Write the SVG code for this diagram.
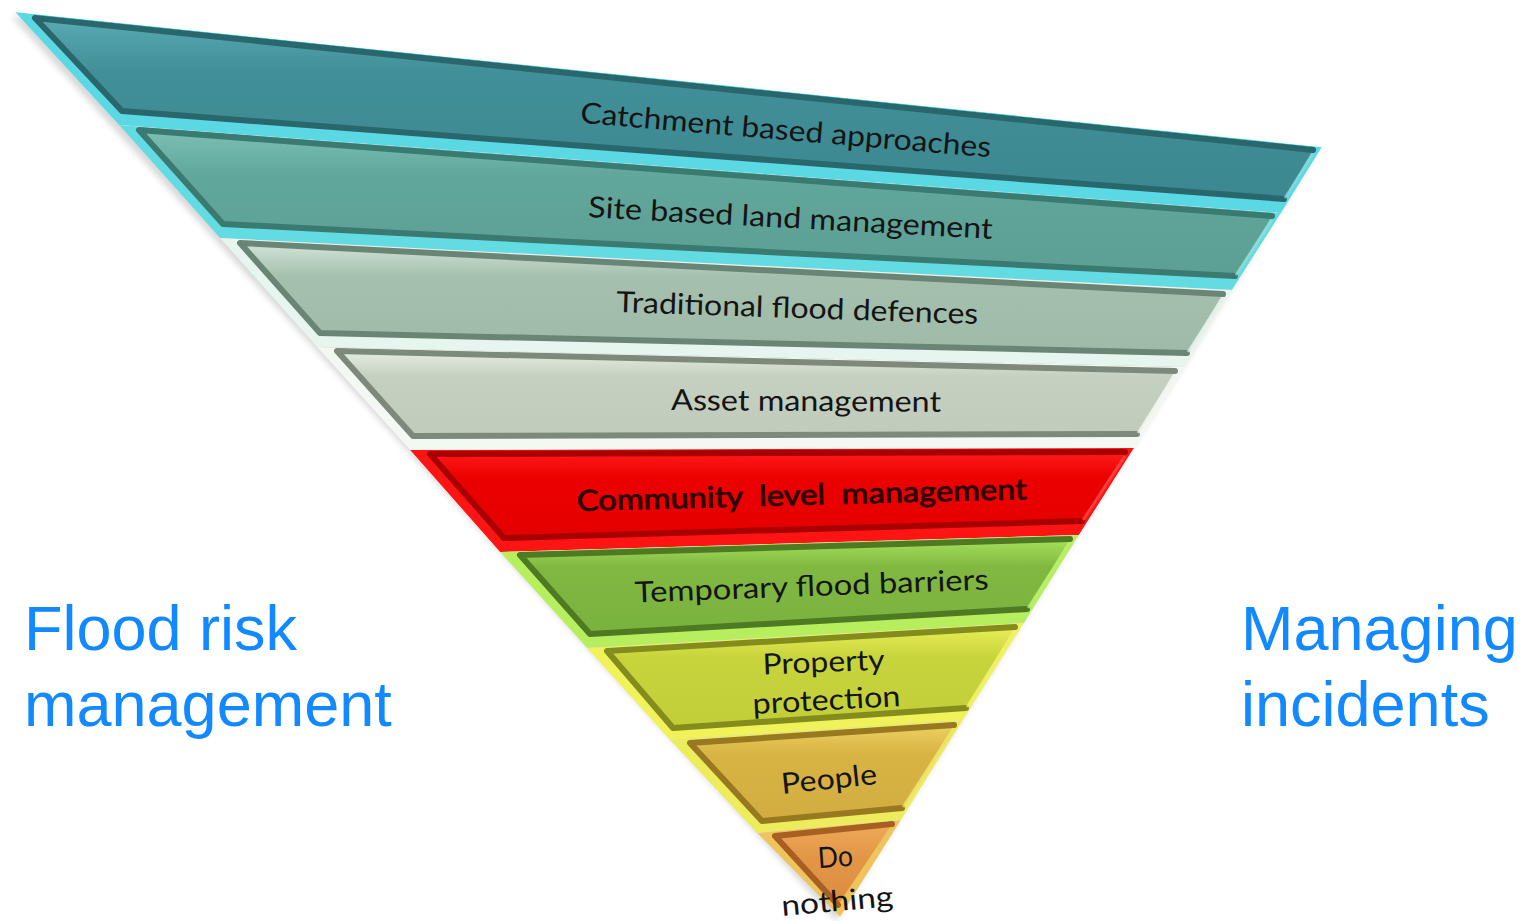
<svg xmlns="http://www.w3.org/2000/svg" xmlns:xlink="http://www.w3.org/1999/xlink" width="1530" height="921" viewBox="0 0 1530 921">
<style>
.lbl{font-family:Lato,"Open Sans","Liberation Sans",sans-serif;font-size:29px;fill:#141414;text-anchor:middle}
.side{font-family:"Liberation Sans",Arial,sans-serif;font-size:63px;fill:#1289fe}
.bev{fill:none;stroke-width:6;stroke-linejoin:round;stroke-linecap:round}
.hl{fill:none;stroke-width:3;stroke-opacity:0.7}
</style>
<defs>
<filter id="sh" x="-5%" y="-5%" width="110%" height="110%"><feGaussianBlur stdDeviation="3"/></filter>
<polygon id="b1" points="15,12 1322,147 1281,213 119,125"/>
<polygon id="b2" points="119,125 1281,213 1232,290 220,238"/>
<polygon id="b3" points="220,238 1232,290 1184,367 317,347"/>
<polygon id="b4" points="317,347 1184,367 1134,448 410,450"/>
<polygon id="b5" points="410,450 1134,448 1079,535 500,552"/>
<polygon id="b6" points="500,552 1079,535 1024,623 587,648"/>
<polygon id="b7" points="587,648 1024,623 963,720 670,740"/>
<polygon id="b8" points="670,740 963,720 901,820 757,833"/>
<polygon id="b9" points="757,833 901,820 840,917"/>
<clipPath id="c1"><use xlink:href="#b1"/></clipPath>
<clipPath id="c2"><use xlink:href="#b2"/></clipPath>
<clipPath id="c3"><use xlink:href="#b3"/></clipPath>
<clipPath id="c4"><use xlink:href="#b4"/></clipPath>
<clipPath id="c5"><use xlink:href="#b5"/></clipPath>
<clipPath id="c6"><use xlink:href="#b6"/></clipPath>
<clipPath id="c7"><use xlink:href="#b7"/></clipPath>
<clipPath id="c8"><use xlink:href="#b8"/></clipPath>
<clipPath id="c9"><use xlink:href="#b9"/></clipPath>
<linearGradient id="g1" x1="0" y1="0" x2="0" y2="1"><stop offset="0" stop-color="#58aab2"/><stop offset="0.3" stop-color="#418f98"/><stop offset="1" stop-color="#3c8891"/></linearGradient>
<linearGradient id="g2" x1="0" y1="0" x2="0" y2="1"><stop offset="0" stop-color="#7cc0b4"/><stop offset="0.3" stop-color="#62a79c"/><stop offset="1" stop-color="#5c9f94"/></linearGradient>
<linearGradient id="g3" x1="0" y1="0" x2="0" y2="1"><stop offset="0" stop-color="#d2e4d8"/><stop offset="0.3" stop-color="#a5c0af"/><stop offset="1" stop-color="#9fbaa9"/></linearGradient>
<linearGradient id="g4" x1="0" y1="0" x2="0" y2="1"><stop offset="0" stop-color="#e6ede2"/><stop offset="0.3" stop-color="#c5d0c0"/><stop offset="1" stop-color="#c0cbbb"/></linearGradient>
<linearGradient id="g5" x1="0" y1="0" x2="0" y2="1"><stop offset="0" stop-color="#ff1a1a"/><stop offset="0.3" stop-color="#ec0000"/><stop offset="1" stop-color="#e40000"/></linearGradient>
<linearGradient id="g6" x1="0" y1="0" x2="0" y2="1"><stop offset="0" stop-color="#a6e05a"/><stop offset="0.3" stop-color="#80b842"/><stop offset="1" stop-color="#7ab23e"/></linearGradient>
<linearGradient id="g7" x1="0" y1="0" x2="0" y2="1"><stop offset="0" stop-color="#e8ee58"/><stop offset="0.3" stop-color="#c8d43c"/><stop offset="1" stop-color="#c2ce38"/></linearGradient>
<linearGradient id="g8" x1="0" y1="0" x2="0" y2="1"><stop offset="0" stop-color="#ecd060"/><stop offset="0.3" stop-color="#d8b444"/><stop offset="1" stop-color="#d2ac40"/></linearGradient>
<linearGradient id="g9" x1="0" y1="0" x2="0" y2="1"><stop offset="0" stop-color="#eeaa58"/><stop offset="0.4" stop-color="#e39648"/><stop offset="1" stop-color="#dc8c40"/></linearGradient>
</defs>
<rect width="1530" height="921" fill="#ffffff"/>
<polygon points="11,16 1318,151 836,921" fill="#000" opacity="0.15" filter="url(#sh)"/>

<g id="layer-catchment" clip-path="url(#c1)">
<use xlink:href="#b1" fill="#5ad8e4"/>
<polygon points="35,18 1313,150 1284,199 122,111" fill="url(#g1)"/>
<polyline class="bev" points="1284,199 122,111 35,18 1313,150" stroke="#2a676d"/>
<polyline class="hl" points="1313,154 1285,198" stroke="#8fd8dc"/>
<text class="lbl" transform="translate(785,140) rotate(4.8)" textLength="412" lengthAdjust="spacingAndGlyphs">Catchment based approaches</text>
</g>
<g id="layer-site" clip-path="url(#c2)">
<use xlink:href="#b2" fill="#62dbe2"/>
<polygon points="139,130 1272,216 1235,276 223,224" fill="url(#g2)"/>
<polyline class="bev" points="1235,276 223,224 139,130 1272,216" stroke="#3b7a70"/>
<polyline class="hl" points="1272,220 1236,275" stroke="#a0dcd0"/>
<text class="lbl" transform="translate(790,228) rotate(3.1)" textLength="405" lengthAdjust="spacingAndGlyphs">Site based land management</text>
</g>
<g id="layer-traditional" clip-path="url(#c3)">
<use xlink:href="#b3" fill="#e6f6ee"/>
<polygon points="240,243 1223,294 1187,353 320,333" fill="url(#g3)"/>
<polyline class="bev" points="1187,353 320,333 240,243 1223,294" stroke="#6a8576"/>
<polyline class="hl" points="1223,298 1188,352" stroke="#e0eee6"/>
<text class="lbl" transform="translate(797,318) rotate(1.9)" textLength="362" lengthAdjust="spacingAndGlyphs">Traditional flood defences</text>
</g>
<g id="layer-asset" clip-path="url(#c4)">
<use xlink:href="#b4" fill="#f4f8f2"/>
<polygon points="337,351 1175,371 1137,434 413,436" fill="url(#g4)"/>
<polyline class="bev" points="1137,434 413,436 337,351 1175,371" stroke="#7d8a7b"/>
<polyline class="hl" points="1175,375 1138,433" stroke="#eef2ea"/>
<text class="lbl" transform="translate(806,411) rotate(0.4)" textLength="270" lengthAdjust="spacingAndGlyphs">Asset management</text>
</g>
<g id="layer-community" clip-path="url(#c5)">
<use xlink:href="#b5" fill="#ff1414"/>
<polygon points="430,454 1125,452 1082,521 504,538" fill="url(#g5)"/>
<polyline class="bev" points="1082,521 504,538 430,454 1125,452" stroke="#a80000"/>
<polyline class="hl" points="1125,456 1083,520" stroke="#ff5050"/>
<text class="lbl" xml:space="preserve" style="fill:#2a0000;stroke:#2a0000;stroke-width:0.8" transform="translate(802,505) rotate(-1.5)" textLength="450" lengthAdjust="spacingAndGlyphs">Community  level  management</text>
</g>
<g id="layer-temporary" clip-path="url(#c6)">
<use xlink:href="#b6" fill="#b6ee5e"/>
<polygon points="520,555 1070,539 1027,609 590,634" fill="url(#g6)"/>
<polyline class="bev" points="1027,609 590,634 520,555 1070,539" stroke="#4e7a24"/>
<polyline class="hl" points="1070,543 1028,608" stroke="#b8ee70"/>
<text class="lbl" transform="translate(812,596) rotate(-2.1)" textLength="354" lengthAdjust="spacingAndGlyphs">Temporary flood barriers</text>
</g>
<g id="layer-property" clip-path="url(#c7)">
<use xlink:href="#b7" fill="#f0f25a"/>
<polygon points="607,651 1015,627 966,708 673,728" fill="url(#g7)"/>
<polyline class="bev" points="966,708 673,728 607,651 1015,627" stroke="#858c1e"/>
<polyline class="hl" points="1015,631 967,707" stroke="#eef070"/>
<text class="lbl" transform="translate(824,672) rotate(-2.3)" textLength="122" lengthAdjust="spacingAndGlyphs">Property</text>
<text class="lbl" transform="translate(827,710) rotate(-3.1)" textLength="148" lengthAdjust="spacingAndGlyphs">protection</text>
</g>
<g id="layer-people" clip-path="url(#c8)">
<use xlink:href="#b8" fill="#ecec5c"/>
<polygon points="690,743 954,725 902,808 762,821" fill="url(#g8)"/>
<polyline class="bev" points="902,808 762,821 690,743 954,725" stroke="#987820"/>
<polyline class="hl" points="954,729 903,807" stroke="#f0dc70"/>
<text class="lbl" transform="translate(830,789) rotate(-6)" textLength="96" lengthAdjust="spacingAndGlyphs">People</text>
</g>
<g id="layer-do-nothing">
<g clip-path="url(#c9)">
<use xlink:href="#b9" fill="#f0c45c"/>
<polygon points="775,836 892,824 838,905" fill="url(#g9)"/>
<polyline class="bev" points="838,905 775,836 892,824" stroke="#a86022"/>
</g>
<text class="lbl" transform="translate(836,867) rotate(-4)" textLength="35" lengthAdjust="spacingAndGlyphs">Do</text>
<text class="lbl" transform="translate(838,911) rotate(-5)" textLength="112" lengthAdjust="spacingAndGlyphs">nothing</text>
</g>

<g id="label-flood-risk">
<text class="side" x="24" y="650">Flood risk</text>
<text class="side" x="24" y="726">management</text>
</g>
<g id="label-managing">
<text class="side" x="1241" y="650">Managing</text>
<text class="side" x="1241" y="726">incidents</text>
</g>
</svg>
